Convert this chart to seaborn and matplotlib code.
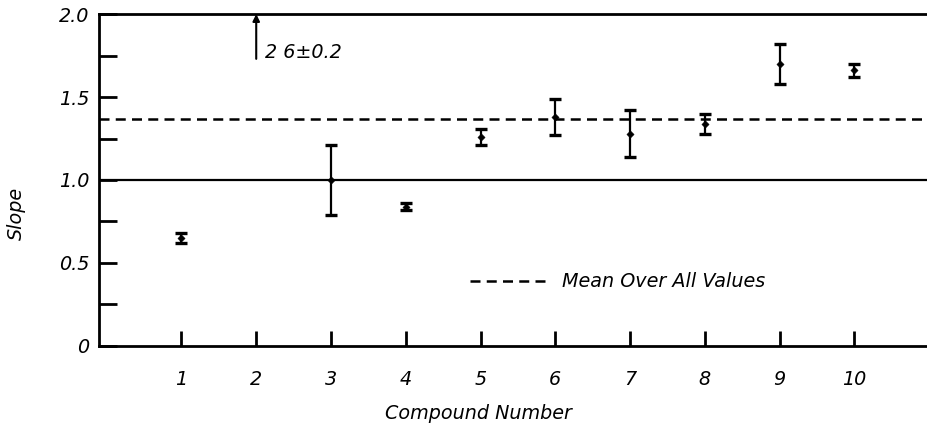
import matplotlib
matplotlib.use("Agg")
import matplotlib.pyplot as plt
import seaborn as sns
import pandas as pd
from matplotlib.ticker import MultipleLocator

# data (compound 2 is off scale: 2.6 +- 0.2)
compounds = [1, 3, 4, 5, 6, 7, 8, 9, 10]
slopes = [0.65, 1.00, 0.84, 1.26, 1.38, 1.28, 1.34, 1.70, 1.66]
errors = [0.03, 0.21, 0.02, 0.05, 0.11, 0.14, 0.06, 0.12, 0.04]
mean_slope = 1.37
offscale_x = 2
offscale_label = "2 6±0.2"
xticks = [1, 2, 3, 4, 5, 6, 7, 8, 9, 10]
yticks = [0, 0.5, 1.0, 1.5, 2.0]
ytick_labels = ["0", "0.5", "1.0", "1.5", "2.0"]

sns.set_style("ticks")
plt.rcParams["font.family"] = ["DejaVu Sans"]
plt.rcParams["font.style"] = "italic"
plt.rcParams["text.color"] = "black"
plt.rcParams["xtick.color"] = "black"
plt.rcParams["ytick.color"] = "black"
plt.rcParams["axes.labelcolor"] = "black"
plt.rcParams["axes.edgecolor"] = "black"

FS = 13.8

df = pd.DataFrame({"compound": compounds, "slope": slopes, "err": errors})

fig = plt.figure(figsize=(9.27, 4.26), dpi=100)
ax = fig.add_axes([0.107, 0.188, 0.893, 0.779])

# error bars + centre points
ax.errorbar(df["compound"], df["slope"], yerr=df["err"], fmt="none",
            ecolor="black", elinewidth=1.6, capsize=4, capthick=2.4, zorder=3)
sns.scatterplot(data=df, x="compound", y="slope", color="black", s=14,
                marker="D", edgecolor="black", ax=ax, zorder=4, legend=False)

# reference lines
ax.axhline(1.0, color="black", lw=1.6, zorder=1)
ax.axhline(mean_slope, color="black", lw=1.8, dashes=(4, 2.5), zorder=1,
           label="Mean Over All Values")

# off-scale compound
ax.annotate("", xy=(offscale_x, 2.0), xytext=(offscale_x, 1.73),
            arrowprops=dict(arrowstyle="-|>", lw=1.5, color="black",
                            mutation_scale=10, shrinkA=0, shrinkB=0))
ax.text(offscale_x + 0.12, 1.77, offscale_label, fontsize=FS,
        va="center", ha="left", style="italic")

ax.set_xlim(-0.1, 10.97)
ax.set_ylim(0, 2.0)
ax.set_xticks(xticks)
ax.set_xticklabels([str(t) for t in xticks])
ax.set_yticks(yticks)
ax.set_yticklabels(ytick_labels)
ax.yaxis.set_minor_locator(MultipleLocator(0.25))

ax.tick_params(axis="y", which="both", direction="in", length=13, width=2,
               labelsize=FS, pad=7)
ax.tick_params(axis="x", which="both", direction="in", length=11, width=2,
               labelsize=FS, pad=17)

for side in ["left", "bottom", "top"]:
    ax.spines[side].set_linewidth(2)
ax.spines["right"].set_visible(False)

# axis titles placed on the figure
ax.set_xlabel("")
ax.set_ylabel("")
fig.text(0.018, 0.5, "Slope", fontsize=FS, style="italic", rotation=90,
         ha="center", va="center")
fig.text(0.516, 0.03, "Compound Number", fontsize=FS, style="italic",
         ha="center", va="center")

ax.legend(loc="center left", bbox_to_anchor=(0.448, 0.193), frameon=False,
          fontsize=FS, handlelength=4.0, handletextpad=0.8, borderpad=0,
          borderaxespad=0)

fig.savefig("out.png", dpi=100)
